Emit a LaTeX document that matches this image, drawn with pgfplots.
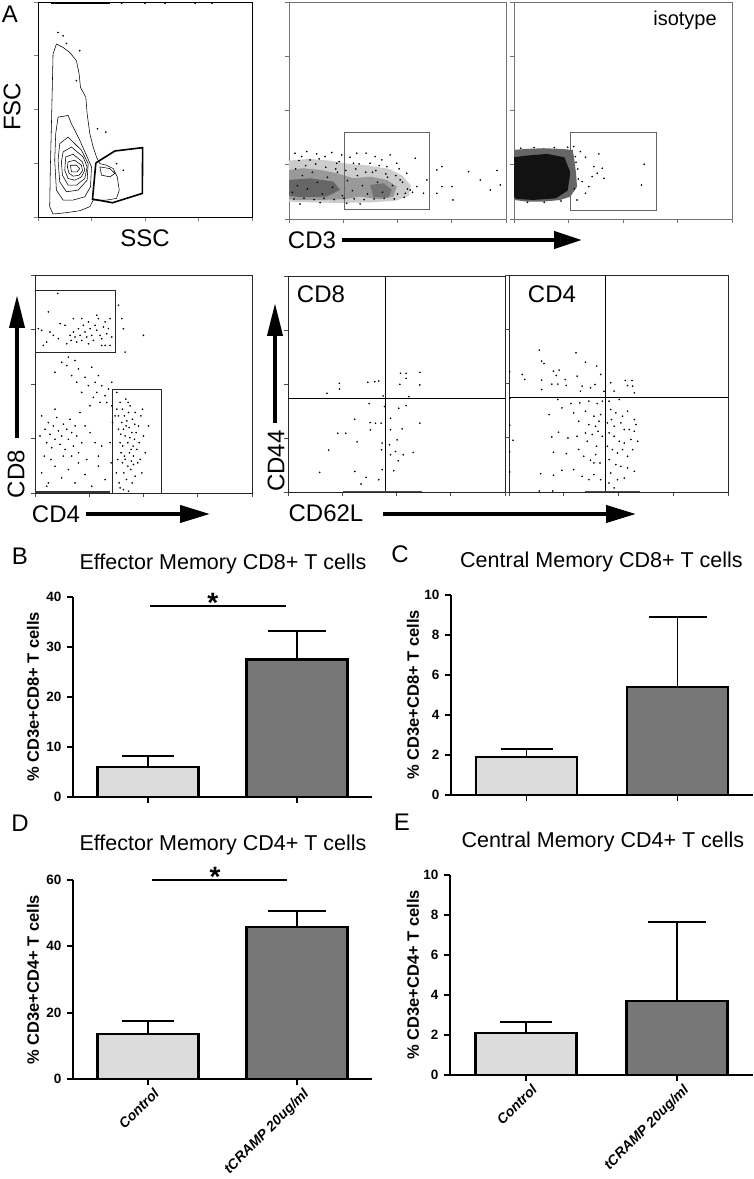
\documentclass[border=0pt]{standalone}
\usepackage{fontspec}
\setmainfont{Liberation Sans}
\usepackage{pgfplots}
\pgfplotsset{compat=1.18}
\usetikzlibrary{arrows.meta}
\definecolor{ctrlc}{HTML}{DCDCDC}
\definecolor{trtc}{HTML}{777777}
\newcommand\fL{\fontsize{24}{26}\selectfont}
\newcommand\fT{\fontsize{21.5}{24}\selectfont}
\pgfplotsset{
 flow/.style={scale only axis, anchor=south west, xmin=0, xmax=650, ymin=0, ymax=650,
   xtick={0,162.5,325,487.5,650}, ytick={0,162.5,325,487.5,650},
   xticklabels={}, yticklabels={}, tick align=outside, tick pos=left,
   major tick length=4pt, axis line style={line width=0.8pt},
   tick style={line width=0.7pt}},
 dots/.style={only marks, mark=*, mark size=0.6pt, black},
 barax/.style={scale only axis, anchor=south west, axis x line*=bottom, axis y line*=left,
   xmin=0, xmax=4, ymin=0, xtick={1,3}, xticklabels={}, tick align=outside,
   major tick length=6pt, axis line style={line width=1.8pt},
   tick style={line width=1.8pt, black}, clip=false,
   yticklabel style={font=\bfseries\fontsize{13.5}{14}\selectfont, xshift=-2pt},
   /pgf/number format/assume math mode=true},
 ctrlbar/.style={ybar, bar width=101pt, bar shift=0pt, fill=ctrlc, draw=black, line width=2.6pt,
   error bars/.cd, y dir=plus, y explicit, error bar style={line width=1.8pt, black},
   error mark options={rotate=90, mark size=26pt, line width=1.8pt, black}},
 trtbar/.style={ybar, bar width=101pt, bar shift=0pt, fill=trtc, draw=black, line width=2.6pt,
   error bars/.cd, y dir=plus, y explicit, error bar style={line width=1.8pt, black},
   error mark options={rotate=90, mark size=29pt, line width=1.8pt, black}},
 xlab/.style={xticklabels={Control,tCRAMP 20ug/ml},
  xticklabel style={rotate=45, anchor=north east, font=\bfseries\itshape\fontsize{14}{15}\selectfont, inner sep=1pt, yshift=-4pt, xshift=3pt}},
}
\begin{document}
\begin{tikzpicture}[x=1pt,y=1pt]
\useasboundingbox (0,0) rectangle (754,1179);

%% ---------------- FSC / SSC contour ----------------
\begin{axis}[flow, at={(38pt,962pt)}, width=214pt, height=215pt,
  xmax=640, ymax=648, xtick={0,160,320,480,640}, ytick={0,162,324,486,648}]
\addplot[black, line width=0.55pt] coordinates {(35,31) (37,151) (40,271) (43,401) (45,491) (55,521) (75,511) (95,496) (115,471) (123,431) (127,391) (143,361) (147,311) (155,251) (165,211) (175,181) (185,161) (205,156) (225,146) (237,121) (243,81) (235,56) (205,51) (165,51) (155,31) (125,19) (85,13) (45,9) (35,31)};
\addplot[black, line width=0.55pt] coordinates {(60,301) (90,306) (100,281) (125,231) (147,181) (160,151) (157,91) (140,61) (105,51) (75,51) (55,81) (50,171) (53,251) (60,301)};
\addplot[black, line width=0.55pt] coordinates {(65,221) (90,241) (130,201) (150,161) (147,111) (120,81) (85,76) (65,106) (60,171) (65,221)};
\addplot[black, line width=0.55pt] coordinates {(75,196) (100,211) (135,181) (147,151) (140,116) (115,96) (90,96) (73,126) (70,166) (75,196)};
\addplot[black, line width=0.55pt] coordinates {(83,181) (105,189) (133,166) (140,141) (130,121) (110,111) (90,116) (80,141) (83,181)};
\addplot[black, line width=0.55pt] coordinates {(90,166) (110,171) (130,156) (133,139) (123,126) (105,123) (92,133) (88,151) (90,166)};
\addplot[black, line width=0.55pt] coordinates {(97,156) (115,156) (125,146) (117,136) (100,136) (97,156)};
\addplot[black, line width=0.55pt] coordinates {(185,151) (215,146) (230,131) (215,121) (190,126) (185,151)};
\addplot[black, line width=1.6pt] coordinates {(173,163) (230,199) (313,209) (312,71) (223,43) (163,54) (173,163)};
\addplot[dots] coordinates {(60,556) (75,546) (85,523) (125,501) (178,266) (203,256) (235,161) (255,141) (115,411) (250,644) (320,644) (380,644) (470,644) (520,644)};
\addplot[black, line width=0.8pt] coordinates {(40,644) (215,644)};
\end{axis}
\node[font=\fL] at (10,1165) {A};
\node[font=\fL, rotate=90] at (12,1072) {FSC};
\node[font=\fL] at (145,941) {SSC};

%% ---------------- CD3 ----------------
\begin{axis}[flow, at={(289pt,960pt)}, width=217pt, height=217pt,
  axis line style={black!55}, tick style={black!55}]
\addplot[fill=black!20, draw=none] coordinates {(0,175) (60,180) (120,175) (180,165) (240,160) (300,150) (340,130) (365,100) (360,70) (320,55) (250,50) (150,48) (60,50) (0,52)};
\addplot[fill=black!40, draw=none] coordinates {(0,147) (43,152) (93,147) (143,137) (193,122) (243,127) (293,117) (323,97) (313,67) (273,59) (213,67) (163,59) (93,57) (33,57) (0,59)};
\addplot[fill=black!60, draw=none] coordinates {(0,117) (63,122) (133,112) (153,87) (113,67) (43,65) (0,69)};
\addplot[fill=black!55, draw=none] coordinates {(243,102) (283,107) (308,87) (298,65) (253,65)};
\addplot[dots] coordinates {(18,197) (38,187) (53,202) (83,195) (108,187) (128,199) (158,192) (183,185) (203,197) (231,197) (258,187) (278,177) (303,192) (323,167) (353,137) (378,182) (383,97) (403,77) (413,117) (443,147) (458,157) (458,97) (488,97) (491,57) (443,77) (538,142) (573,117) (603,87) (623,145) (633,102) (333,117) (363,87) (348,77) (173,47) (213,45) (93,49) (33,45) (63,177) (143,167) (193,167) (243,167) (293,157)};
\addplot[dots] coordinates {(10,80) (25,100) (40,130) (55,90) (70,140) (85,110) (100,75) (115,125) (130,95) (145,140) (160,70) (175,115) (190,85) (205,130) (220,100) (235,75) (250,140) (265,110) (280,80) (295,125) (310,100) (325,75) (340,110) (355,90) (20,150) (50,160) (80,165) (110,155) (140,150) (170,145) (200,150) (230,140) (260,145) (290,135) (320,130) (15,60) (45,62) (75,58) (105,62) (135,58) (165,62) (195,60) (225,58) (255,60) (285,62) (315,60) (345,65) (370,80) (30,175) (90,180) (150,172) (210,165) (270,160) (330,150)};
\addplot[black!60, line width=0.8pt] coordinates {(165,29) (421,29) (421,258) (165,258) (165,29)};
\end{axis}
\node[font=\fL] at (312,939) {CD3};
\draw[line width=4pt, -{Triangle[length=28pt,width=17pt]}] (342,939) -- (582,939);

%% ---------------- isotype ----------------
\begin{axis}[flow, at={(514pt,960pt)}, width=218pt, height=217pt,
  axis line style={black!55}, tick style={black!55}]
\addplot[fill=black!60, draw=none] coordinates {(0,207) (38,210) (88,212) (138,210) (175,207) (180,177) (185,137) (188,97) (168,67) (138,57) (88,52) (38,52) (0,57)};
\addplot[fill=black!93, draw=none] coordinates {(0,185) (38,190) (98,195) (150,185) (168,140) (160,85) (125,62) (58,57) (8,60) (0,65)};
\addplot[dots] coordinates {(183,187) (213,185) (253,195) (238,157) (248,137) (263,152) (268,122) (233,127) (203,112) (223,97) (213,77) (388,164) (380,102) (188,57) (178,217) (198,202) (185,170) (190,150) (192,120) (180,90) (160,215) (120,214) (60,214) (20,212) (140,54) (90,50) (40,50)};
\addplot[black!60, line width=0.8pt] coordinates {(167,27) (425,27) (425,259) (167,259) (167,27)};
\end{axis}
\node[font=\fontsize{20}{22}\selectfont] at (685,1159) {isotype};

%% ---------------- CD8 vs CD4 ----------------
\begin{axis}[flow, at={(35pt,686pt)}, width=217pt, height=218pt,
  axis line style={black!85}, tick style={black!70}]
\addplot[dots] coordinates {(10,490) (20,485) (35,450) (45,480) (55,470) (40,540) (70,460) (75,505) (90,500) (95,445) (105,470) (108,455) (115,480) (120,465) (125,450) (130,490) (135,470) (140,455) (145,500) (150,480) (155,465) (160,510) (165,490) (170,470) (175,455) (180,500) (185,485) (190,520) (195,470) (200,460) (205,495) (210,510) (215,475) (220,490) (225,520) (230,465) (200,440) (160,445) (68,595) (25,440) (115,520) (140,520) (185,530) (210,440) (225,440) (250,560) (265,490) (270,420) (325,470) (260,520)};
\addplot[dots] coordinates {(100,405) (120,395) (95,380) (130,370) (150,345) (110,350) (170,375) (180,330) (185,300) (200,320) (210,290) (195,270) (165,260) (220,310) (230,330) (215,270) (140,300) (160,320) (175,285) (190,350) (125,330) (80,390) (60,360) (230,260) (240,230) (245,300)};
\addplot[dots] coordinates {(20,230) (30,190) (35,150) (40,210) (45,175) (50,135) (55,200) (60,160) (65,225) (70,185) (75,145) (80,170) (85,205) (90,130) (95,190) (100,160) (105,220) (110,180) (115,140) (120,200) (125,170) (130,120) (135,240) (140,150) (28,110) (48,100) (85,110) (110,110) (15,170) (60,250) (150,200) (165,180) (180,150) (200,140) (190,110) (155,100)};
\addplot[dots] coordinates {(20,60) (40,30) (60,80) (80,45) (100,70) (120,30) (150,55) (170,20) (190,80) (210,40) (35,20) (130,90) (225,150) (228,90) (232,210)};
\addplot[dots] coordinates {(245,250) (250,230) (255,270) (260,210) (262,250) (265,190) (268,230) (270,170) (272,280) (275,215) (278,150) (280,240) (282,195) (285,260) (288,130) (290,180) (292,220) (295,110) (298,160) (300,240) (255,150) (258,120) (262,90) (266,60) (270,100) (274,40) (278,80) (283,120) (287,70) (291,30) (295,85) (300,50) (305,130) (310,200) (315,100) (320,60) (325,170) (250,190) (248,100) (244,60) (252,30) (257,175) (263,140) (268,110) (273,200) (279,270) (284,165) (289,95) (294,140) (299,205) (303,180) (308,90) (312,150) (317,230) (322,250) (330,120) (340,200) (255,15) (265,10) (280,5)};
\addplot[black!80, line width=1.2pt] coordinates {(0,3) (225,3)};
\addplot[black!85, line width=0.9pt] coordinates {(0,418) (240,418) (240,603) (0,603) (0,418)};
\addplot[black!85, line width=0.9pt] coordinates {(233,0) (380,0) (380,310) (233,310) (233,0)};
\end{axis}
\node[font=\fL, rotate=90] at (16,705) {CD8};
\draw[line width=4pt, -{Triangle[length=33pt,width=15pt]}] (17,741) -- (17,884);
\node[font=\fL] at (56,665) {CD4};
\draw[line width=4pt, -{Triangle[length=30pt,width=17pt]}] (86,665) -- (210,665);

%% ---------------- CD62L / CD44 : CD8 ----------------
\begin{axis}[flow, at={(288pt,687pt)}, width=217pt, height=216pt,
  axis line style={black!85}, tick style={black!70}]
\addplot[black, line width=0.9pt] coordinates {(291,0) (291,650)};
\addplot[black, line width=0.9pt] coordinates {(0,281) (650,281)};
\addplot[dots] coordinates {(117,297) (154,327) (154,310) (239,330) (260,332) (272,334) (337,357) (354,357) (354,342) (395,360) (395,322) (335,324) (362,287) (285,289) (243,266) (200,219) (246,209) (262,207) (279,207) (247,187) (149,177) (173,177) (207,151) (122,126) (95,59) (200,62) (234,44) (219,24) (272,37) (282,147) (280,127) (282,67) (307,222) (332,252) (354,260) (307,187) (342,190) (327,157) (304,142) (322,122) (307,112) (330,94) (345,112) (375,119) (317,64) (395,207) (289,257)};
\addplot[black!70, line width=1.2pt] coordinates {(165,2) (400,2)};
\end{axis}
\node[font=\fL] at (321,885) {CD8};

%% ---------------- CD62L / CD44 : CD4 ----------------
\begin{axis}[flow, at={(509pt,687pt)}, width=219pt, height=217pt,
  axis line style={black!85}, tick style={black!70}]
\addplot[black, line width=0.9pt] coordinates {(287,0) (287,650)};
\addplot[black, line width=0.9pt] coordinates {(0,284) (650,284)};
\addplot[dots] coordinates {(90,425) (199,417) (97,392) (104,385) (227,389) (260,377) (39,352) (47,337) (132,362) (149,365) (140,349) (167,337) (202,347) (272,352) (97,335) (127,323) (145,323) (170,319) (217,317) (242,312) (255,322) (212,302) (282,302) (97,307) (302,327) (345,334) (365,334) (352,319) (367,317) (312,302) (372,297)};
\addplot[dots] coordinates {(145,277) (184,265) (210,267) (237,272) (262,265) (277,272) (119,232) (157,252) (192,237) (227,242) (252,227) (272,232) (207,212) (237,202) (257,197) (267,212) (147,179) (175,162) (202,167) (227,177) (247,172) (264,182) (277,167) (127,165) (132,119) (170,115) (207,127) (222,107) (242,95) (257,112) (270,87) (94,55) (132,50) (157,65) (192,67) (217,47) (237,37) (252,52) (272,37) (12,155) (232,152) (260,137) (252,87)};
\addplot[dots] coordinates {(297,272) (327,277) (302,247) (317,237) (337,227) (352,242) (372,217) (377,202) (292,207) (312,197) (332,207) (357,187) (372,182) (297,177) (312,167) (327,152) (342,147) (362,157) (382,152) (292,137) (307,127) (322,117) (337,127) (352,107) (297,97) (317,82) (332,77) (352,72) (372,62) (302,57) (322,37) (342,42) (297,27) (312,12) (304,217) (342,187) (367,127) (2,120) (2,200) (2,280) (2,360) (2,60) (90,3) (130,3)};
\addplot[black!70, line width=1.2pt] coordinates {(225,2) (390,2)};
\end{axis}
\node[font=\fL] at (552,885) {CD4};
\node[font=\fL, rotate=90] at (276,718) {CD44};
\draw[line width=4pt, -{Triangle[length=33pt,width=15pt]}] (275,756) -- (275,876);
\node[font=\fL] at (326,666) {CD62L};
\draw[line width=4pt, -{Triangle[length=30pt,width=17pt]}] (383,665) -- (636,665);

%% ---------------- B ----------------
\begin{axis}[barax, at={(73pt,382pt)}, width=299pt, height=200pt, ymax=40, ytick={0,10,20,30,40}]
\addplot[ctrlbar] coordinates {(1,6.0) +- (0,2.2)};
\addplot[trtbar] coordinates {(3,27.5) +- (0,5.7)};
\addplot[black, line width=2.6pt] coordinates {(1.03,38.2) (2.85,38.2)};
\node[font=\bfseries\fontsize{28}{28}\selectfont] at (axis cs:1.87,38.9) {*};
\end{axis}
\node[font=\fL] at (20,623) {B};
\node[font=\fT, anchor=base] at (223,609) {Effector Memory CD8+ T cells};
\node[rotate=90, font=\bfseries\fontsize{16.5}{17}\selectfont] at (33,482) {\% CD3e+CD8+ T cells};

%% ---------------- C ----------------
\begin{axis}[barax, at={(451pt,384pt)}, width=302pt, height=200pt, ymax=10, ytick={0,2,4,6,8,10}]
\addplot[ctrlbar] coordinates {(1,1.9) +- (0,0.4)};
\addplot[trtbar] coordinates {(3,5.4) +- (0,3.5)};
\end{axis}
\node[font=\fL] at (400,625) {C};
\node[font=\fT, anchor=base] at (601.5,611) {Central Memory CD8+ T cells};
\node[rotate=90, font=\bfseries\fontsize{16.5}{17}\selectfont] at (413,484) {\% CD3e+CD8+ T cells};

%% ---------------- D ----------------
\begin{axis}[barax, xlab, at={(73pt,100pt)}, width=299pt, height=199pt, ymax=60, ytick={0,20,40,60}]
\addplot[ctrlbar] coordinates {(1,13.6) +- (0,3.9)};
\addplot[trtbar] coordinates {(3,45.8) +- (0,4.8)};
\addplot[black, line width=2.6pt] coordinates {(1.06,60) (2.86,60)};
\node[font=\bfseries\fontsize{28}{28}\selectfont] at (axis cs:1.9,60.8) {*};
\end{axis}
\node[font=\fL] at (20,356) {D};
\node[font=\fT, anchor=base] at (223,328) {Effector Memory CD4+ T cells};
\node[rotate=90, font=\bfseries\fontsize{16.5}{17}\selectfont] at (33,199) {\% CD3e+CD4+ T cells};

%% ---------------- E ----------------
\begin{axis}[barax, xlab, at={(450pt,104pt)}, width=303pt, height=200pt, ymax=10, ytick={0,2,4,6,8,10}]
\addplot[ctrlbar] coordinates {(1,2.1) +- (0,0.55)};
\addplot[trtbar] coordinates {(3,3.7) +- (0,3.95)};
\end{axis}
\node[font=\fL] at (402,357) {E};
\node[font=\fT, anchor=base] at (603,331) {Central Memory CD4+ T cells};
\node[rotate=90, font=\bfseries\fontsize{16.5}{17}\selectfont] at (413,204) {\% CD3e+CD4+ T cells};
\end{tikzpicture}
\end{document}
